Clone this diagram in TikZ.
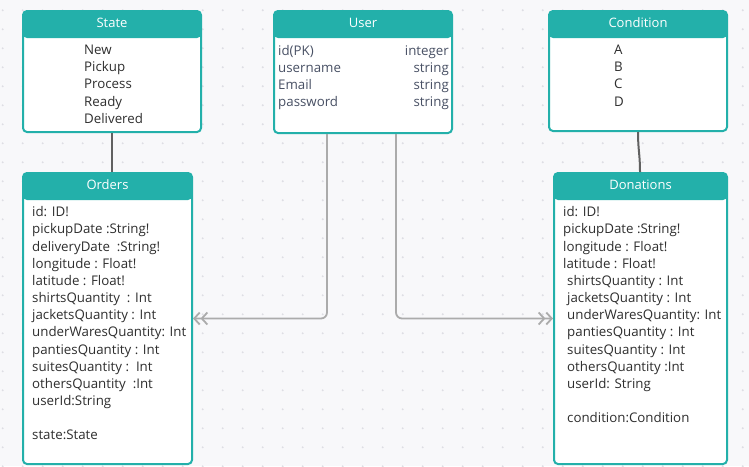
\documentclass[tikz,border=0pt]{standalone}
\usepackage{fontspec}
\setmainfont{Open Sans}
\usepackage{tikz}
\usetikzlibrary{arrows.meta,calc,positioning}
\definecolor{hdteal}{RGB}{35,176,170}
\definecolor{bgc}{RGB}{248,248,250}
\definecolor{dotc}{RGB}{222,222,228}
\definecolor{usertext}{RGB}{72,80,100}
\tikzset{
    x=1pt,y=-1pt,
    table/.style={draw=hdteal, line width=2pt, rounded corners=4pt, fill=white, inner sep=0pt,
        path picture={\fill[hdteal] (path picture bounding box.north west) rectangle ([yshift=-27pt]path picture bounding box.north east);}},
    title/.style={text=white, inner sep=0pt, font=\fontsize{13}{15}\selectfont},
    row/.style={inner sep=0pt, text=black!82, font=\fontsize{13.3}{15}\selectfont},
    link/.style={draw=black!62, line width=2pt},
    assoc/.style={draw=black!33, line width=1.8pt, rounded corners=6pt,
        -{Straight Barb[length=5.5pt,width=12pt] Straight Barb[length=5.5pt,width=12pt]}}
}

\begin{document}
\begin{tikzpicture}
    % background with dot grid
    \fill[bgc] (0,0) rectangle (749,466);
    \useasboundingbox (0,0) rectangle (749,466);
    \foreach \gx in {0,...,37}
        \foreach \gy in {0,...,24}
            \fill[dotc] ({2.7+20*\gx},{10.3+19*\gy}) circle (1.1pt);

    % tables
    \node[table, minimum width=178pt, minimum height=121pt] (state) at (112,71.5) {};
    \node[table, minimum width=178pt, minimum height=122pt] (user) at (363,72) {};
    \node[table, minimum width=178pt, minimum height=120pt] (condition) at (638,71) {};
    \node[table, minimum width=169pt, minimum height=291pt] (orders) at (107.5,318.5) {};
    \node[table, minimum width=173pt, minimum height=291pt] (donations) at (640.5,318.5) {};

    \node[title, anchor=base] (state-t) at ([yshift=-17.5pt]state.north) {State};
    \node[title, anchor=base] (user-t) at ([yshift=-17.5pt]user.north) {User};
    \node[title, anchor=base] (condition-t) at ([yshift=-17.5pt]condition.north) {Condition};
    \node[title, anchor=base] (orders-t) at ([yshift=-17.5pt]orders.north) {Orders};
    \node[title, anchor=base] (donations-t) at ([yshift=-17.5pt]donations.north) {Donations};

    % rows
    \foreach \txt [count=\i from 0] in {New,Pickup,Process,Ready,Delivered}
        \node[row, anchor=base west] (state-\i) at (84,{54.7+17.1*\i}) {\txt};
    \foreach \k/\v [count=\i from 0] in {id(PK)/integer,username/string,Email/string,password/string} {
        \node[row, text=usertext, anchor=base west] (user-k\i) at (278,{55.2+17*\i}) {\k};
        \node[row, text=usertext, anchor=base east] (user-v\i) at (449,{55.2+17*\i}) {\v};
    }
    \foreach \txt [count=\i from 0] in {A,B,C,D}
        \node[row, anchor=base west] (condition-\i) at (614,{54.7+17.1*\i}) {\txt};

    \foreach \txt [count=\i from 0] in {id: ID!,pickupDate :String!,deliveryDate\ \ :String!,
        longitude : Float!,latitude : Float!,shirtsQuantity\ \ : Int,jacketsQuantity : Int,
        underWaresQuantity: Int,pantiesQuantity : Int,suitesQuantity :\ \ Int,
        othersQuantity\ \ :Int,userId:String}
        \node[row, anchor=base west] (orders-\i) at (32,{216.8+17.15*\i}) {\txt};
    \node[row, anchor=base west] (orders-13) at (32,{216.8+17.15*13}) {state:State};

    \foreach \dx/\txt [count=\i from 0] in {0/id: ID!,0/pickupDate :String!,0/longitude : Float!,
        0/latitude : Float!,4/shirtsQuantity : Int,4/jacketsQuantity : Int,
        4/underWaresQuantity: Int,4/pantiesQuantity : Int,4/suitesQuantity : Int,
        4/othersQuantity :Int,4/userId: String}
        \node[row, anchor=base west] (donations-\i) at ({563+\dx},{216.8+17.15*\i}) {\txt};
    \node[row, anchor=base west] (donations-12) at (567,{216.8+17.15*12}) {condition:Condition};

    % connectors
    \draw[link] (state.south) -- (state.south |- orders.north);
    \draw[link] (condition.south) .. controls +(0,18) and +(0,-18) .. ([xshift=-0.5pt]donations.north);
    \draw[assoc] ([xshift=-36pt]user.south) |- (orders.east);
    \draw[assoc] ([xshift=33pt]user.south) |- (donations.west);
\end{tikzpicture}
\end{document}
